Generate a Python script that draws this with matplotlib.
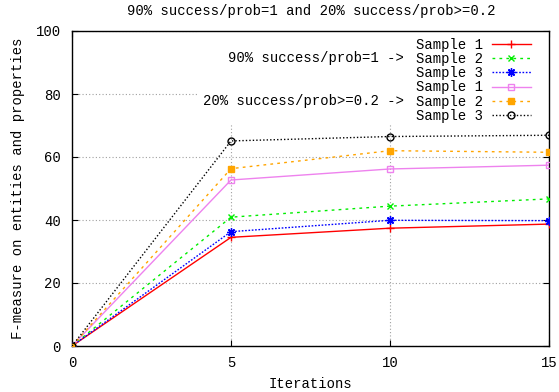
import matplotlib
matplotlib.use("Agg")
import matplotlib.pyplot as plt
from matplotlib.patches import Rectangle

iterations = [0, 5, 10, 15]
g1_sample1 = [0, 34.5, 37.4, 38.7]
g1_sample2 = [0, 40.9, 44.4, 46.7]
g1_sample3 = [0, 36.3, 39.9, 39.8]
g2_sample1 = [0, 52.7, 56.2, 57.4]
g2_sample2 = [0, 56.3, 62.0, 61.5]
g2_sample3 = [0, 65.1, 66.5, 66.9]
series_labels = ["Sample 1", "Sample 2", "Sample 3", "Sample 1", "Sample 2", "Sample 3"]
group_labels = ["90% success/prob=1 ->", "20% success/prob>=0.2 ->"]
x_ticks = [0, 5, 10, 15]
y_ticks = [0, 20, 40, 60, 80, 100]

FONT = "Liberation Mono"
plt.rcParams['font.family'] = FONT
plt.rcParams['font.size'] = 10

fig = plt.figure(figsize=(5.59, 3.92), dpi=100)
ax = fig.add_axes([72/559, 46/392, 477/559, 315/392])

styles = [
    dict(color='#ff0000', ls='-', marker='+', ms=6, mfc='none'),
    dict(color='#00ee00', ls=(0, (2, 3)), marker='x', ms=5),
    dict(color='#0000ff', ls=(0, (1.2, 1.2)), marker=(8, 2, 0), ms=6),
    dict(color='#ee82ee', ls='-', marker='s', ms=5, mfc='none'),
    dict(color='#ffa500', ls=(0, (2, 3)), marker='s', ms=5),
    dict(color='#000000', ls=(0, (1, 1.5)), marker='o', ms=5, mfc='none'),
]
data = [g1_sample1, g1_sample2, g1_sample3, g2_sample1, g2_sample2, g2_sample3]
handles = []
for d, st, lab in zip(data, styles, series_labels):
    h, = ax.plot(iterations, d, lw=1.0, mew=1.0, label=lab, zorder=3, **st)
    handles.append(h)

ax.set_xlim(0, 15)
ax.set_ylim(0, 100)
ax.set_xticks(x_ticks)
ax.set_yticks(y_ticks)
ax.tick_params(direction='in', length=4, top=True, right=True, labelsize=10, colors='black')
ax.tick_params(axis='x', pad=7.5)
ax.tick_params(axis='y', pad=8)
ax.grid(True, color='#a0a0a0', ls=(0, (1, 2)), lw=0.8)
for sp in ax.spines.values():
    sp.set_linewidth(1.0)

# opaque key area
ax.add_patch(Rectangle((0.262, 0.7016), 0.738, 0.2984, transform=ax.transAxes,
                       facecolor='white', edgecolor='none', zorder=2.5))

leg = ax.legend(handles, series_labels, loc='upper right', bbox_to_anchor=(0.962, 0.979),
                frameon=False, markerfirst=False, handlelength=2.8, handletextpad=0.65,
                labelspacing=0.02, borderpad=0, borderaxespad=0, prop={'family': FONT, 'size': 10})
leg.set_zorder(6)

ax.text((404-72)/477, (346-58)/315, group_labels[0], transform=ax.transAxes, ha='right', va='center',
        fontsize=10, zorder=7)
ax.text((404-72)/477, (346-101)/315, group_labels[1], transform=ax.transAxes, ha='right', va='center',
        fontsize=10, zorder=7)

ax.set_xlabel("Iterations", fontsize=10, labelpad=5)
ax.set_ylabel("F-measure on entities and properties", fontsize=10, labelpad=8)
fig.text(311/559, 1 - 11/392, "90% success/prob=1 and 20% success/prob>=0.2", ha='center', va='center', fontsize=10)

fig.savefig("out.png", dpi=100)
